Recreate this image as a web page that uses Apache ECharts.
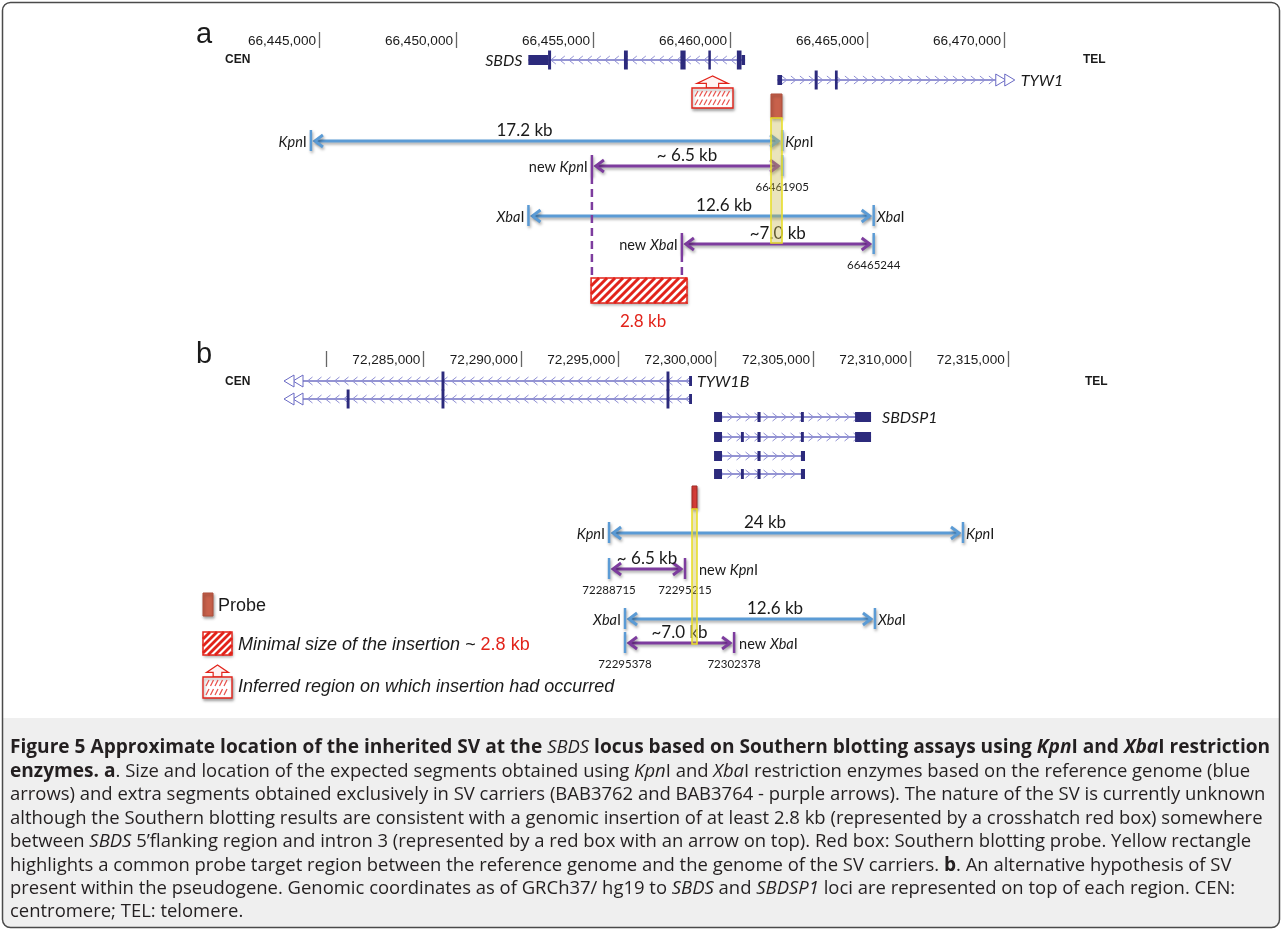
<!DOCTYPE html>
<html>
<head>
<meta charset="utf-8">
<title>Figure 5</title>
<style>
  html, body { margin: 0; padding: 0; background: #fff; }
  #main { width: 1282px; height: 931px; }
</style>
<script src="https://cdn.jsdelivr.net/npm/echarts@6.0.0/dist/echarts.min.js"></script>
</head>
<body>
<div id="main"></div>
<script>
// ---- panel a: SBDS locus, chr7 (hg19) ----
const ticksA = [66445000, 66450000, 66455000, 66460000, 66465000, 66470000];
const tickLabelsA = ['66,445,000', '66,450,000', '66,455,000', '66,460,000', '66,465,000', '66,470,000'];

// exons: [start, end, kind]  kind 0 = UTR/short box, 1 = coding/tall
const sbdsSpan = [66452640, 66460550];
const sbdsExons = [[66452640, 66453360, 0], [66453360, 66453470, 1], [66456130, 66456270, 1],
  [66458190, 66458380, 1], [66459210, 66459300, 1], [66460250, 66460420, 1], [66460420, 66460550, 0]];
const tyw1Span = [66461730, 66469700];
const tyw1Exons = [[66461730, 66461900, 0], [66463090, 66463200, 1], [66463830, 66463930, 1]];

// restriction fragments seen on the Southern blot
const fragFromA = [66444705, 66454960, 66452644, 66458244];
const fragToA = [66461905, 66461905, 66465244, 66465244];
const fragSizeA = ['17.2 kb', '~ 6.5 kb', '12.6 kb', '~7.0 kb'];
const fragLeftSiteA = ['KpnI', 'new KpnI', 'XbaI', 'new XbaI'];
const fragRightSiteA = ['KpnI', '', 'XbaI', ''];
const fragLeftCoordA = ['', '', '', ''];
const fragRightCoordA = ['', '66461905', '', '66465244'];
const probeA = [66461496, 66461898];
const insertA = [66454930, 66458430];
const inferredA = [66458613, 66460109];

// ---- panel b: SBDSP1 pseudogene ----
const ticksB = [72280000, 72285000, 72290000, 72295000, 72300000, 72305000, 72310000, 72315000];
const tickLabelsB = ['', '72,285,000', '72,290,000', '72,295,000', '72,300,000', '72,305,000', '72,310,000', '72,315,000'];

const tyw1bSpan = [72278820, 72298790];
const tyw1bExons1 = [[72285930, 72286080, 1], [72297480, 72297630, 1], [72298640, 72298790, 0]];
const tyw1bExons2 = [[72281060, 72281210, 1], [72285930, 72286080, 1], [72297480, 72297630, 1], [72298640, 72298790, 0]];
const sbdsp1SpanLong = [72299920, 72307980];
const sbdsp1SpanShort = [72299920, 72304590];
const sbdsp1Exons1 = [[72299920, 72300330, 0], [72302150, 72302310, 0], [72304380, 72304530, 0], [72307160, 72307980, 0]];
const sbdsp1Exons2 = [[72299920, 72300330, 0], [72301300, 72301450, 0], [72302150, 72302310, 0], [72304380, 72304530, 0], [72307160, 72307980, 0]];
const sbdsp1Exons3 = [[72299920, 72300330, 0], [72302150, 72302310, 0], [72304380, 72304590, 0]];
const sbdsp1Exons4 = [[72299920, 72300330, 0], [72301300, 72301450, 0], [72302150, 72302310, 0], [72304380, 72304590, 0]];

const fragFromB = [72294530, 72294530, 72295350, 72295350];
const fragToB = [72312700, 72298430, 72308180, 72300950];
const fragSizeB = ['24 kb', '~ 6.5 kb', '12.6 kb', '~7.0 kb'];
const fragLeftSiteB = ['KpnI', '', 'XbaI', ''];
const fragRightSiteB = ['KpnI', 'new KpnI', 'XbaI', 'new XbaI'];
const fragLeftCoordB = ['', '72288715', '', '72295378'];
const fragRightCoordB = ['', '72295215', '', '72302378'];
const probeB = [72298789, 72299045];

// caption, one array per printed line: [style, text]
const caption = [
  [['b', 'Figure 5 Approximate location of the inherited SV at the '], ['i', 'SBDS'], ['b', ' locus based on Southern blotting assays using '], ['bi', 'Kpn'], ['b', 'I and '], ['bi', 'Xba'], ['b', 'I restriction']],
  [['b', 'enzymes. a'], ['r', '. Size and location of the expected segments obtained using '], ['i', 'Kpn'], ['r', 'I and '], ['i', 'Xba'], ['r', 'I restriction enzymes based on the reference genome (blue']],
  [['r', 'arrows) and extra segments obtained exclusively in SV carriers (BAB3762 and BAB3764 - purple arrows). The nature of the SV is currently unknown']],
  [['r', 'although the Southern blotting results are consistent with a genomic insertion of at least 2.8 kb (represented by a crosshatch red box) somewhere']],
  [['r', 'between '], ['i', 'SBDS'], ['r', ' 5’flanking region and intron 3 (represented by a red box with an arrow on top). Red box: Southern blotting probe. Yellow rectangle']],
  [['r', 'highlights a common probe target region between the reference genome and the genome of the SV carriers. '], ['b', 'b'], ['r', '. An alternative hypothesis of SV']],
  [['r', 'present within the pseudogene. Genomic coordinates as of GRCh37/ hg19 to '], ['i', 'SBDS'], ['r', ' and '], ['i', 'SBDSP1'], ['r', ' loci are represented on top of each region. CEN:']],
  [['r', 'centromere; TEL: telomere.']]
];

// ---- layout (page pixels, the y axes run 1:1 with the page) ----
const layA = { sbds: 60, tyw1: 80, frag: [141, 166, 216, 244], probe: [94, 118, 243], insert: [278, 303], inferred: [76, 88, 108] };
const layB = { tyw1b: [381, 399], sbdsp1: [417, 437, 456, 474], frag: [533, 569, 619, 643], probe: [486, 509, 644] };
const sizeShiftA = [-22, 0, 23, 0], sizeShiftB = [-21, 0, 25, 0];
const rightGapA = [3, 3, 3, 3], rightGapB = [3, 14, 3, 5];

const BLUE = '#5b9bd5', PURPLE = '#7d3c9e', RED = '#e2231a', EXON = '#2c2a7c';
const INTRON = '#7070c4', CHEV = '#8f8fd4', TXT = '#1a1a1a', FONT = 'Lato', CAPFONT = 'Open Sans';

function textEl(text, x, y, o) {
  o = o || {};
  const al = o.align || 'left', va = o.va || 'middle';
  return {
    type: 'text',
    style: {
      text: text, x: x, y: y, fill: o.color || TXT,
      fontFamily: o.family || FONT, fontSize: o.size || 14,
      fontWeight: o.weight || 'normal', fontStyle: o.style || 'normal',
      align: al, textAlign: al, verticalAlign: va, textVerticalAlign: va,
      rich: o.rich
    }
  };
}

const shadow = { shadowBlur: 3, shadowColor: 'rgba(0,0,0,0.35)', shadowOffsetX: 1, shadowOffsetY: 2 };

function hatch(x0, y0, x1, y1, gap, lw, color) {
  const h = y1 - y0, out = [];
  for (let k = x0 - h; k < x1; k += gap) {
    const t0 = Math.max(0, x0 - k), t1 = Math.min(h, x1 - k);
    if (t1 <= t0) continue;
    out.push({ type: 'line', shape: { x1: k + t0, y1: y1 - t0, x2: k + t1, y2: y1 - t1 }, style: { stroke: color, lineWidth: lw } });
  }
  out.push({ type: 'rect', shape: { x: x0, y: y0, width: x1 - x0, height: h }, style: { fill: 'none', stroke: color, lineWidth: 1.5 } });
  return out;
}

function inferredIcon(x0, x1, yTop, yBox, yBot) {
  const cx = (x0 + x1) / 2, w = x1 - x0, yb = yTop + (yBox - yTop) * 0.62, sw = w * 0.15;
  const out = [
    { type: 'polygon', shape: { points: [[cx, yTop], [x0 + w * 0.12, yb], [cx - sw, yb], [cx - sw, yBox], [cx + sw, yBox], [cx + sw, yb], [x1 - w * 0.12, yb]] },
      style: { fill: '#fff3f3', stroke: RED, lineWidth: 1.2 } },
    { type: 'rect', shape: { x: x0, y: yBox, width: w, height: yBot - yBox }, style: Object.assign({ fill: '#fff', stroke: RED, lineWidth: 1.4 }, shadow) }
  ];
  const mid = (yBox + yBot) / 2;
  [[yBox + 3, mid - 1.5], [mid + 1.5, yBot - 3]].forEach(function (r) {
    for (let x = x0 + 3; x + 3 < x1 - 1; x += 4.5) {
      out.push({ type: 'line', shape: { x1: x, y1: r[1], x2: x + 3, y2: r[0] }, style: { stroke: '#e8504a', lineWidth: 1.2 } });
    }
  });
  return out;
}

function arrow(x0, x1, y, col, cL, cR) {
  const st = Object.assign({ stroke: col, lineWidth: 3, fill: 'none' }, shadow);
  return [
    { type: 'line', shape: { x1: x0 + 4, y1: y, x2: x1 - 4, y2: y }, style: st },
    { type: 'polyline', shape: { points: [[x0 + 12, y - 6], [x0 + 4, y], [x0 + 12, y + 6]] }, style: st },
    { type: 'polyline', shape: { points: [[x1 - 12, y - 6], [x1 - 4, y], [x1 - 12, y + 6]] }, style: st },
    { type: 'line', shape: { x1: x0, y1: y - 11, x2: x0, y2: y + 10 }, style: Object.assign({ stroke: cL, lineWidth: 2.5 }, shadow) },
    { type: 'line', shape: { x1: x1, y1: y - 11, x2: x1, y2: y + 10 }, style: Object.assign({ stroke: cR, lineWidth: 2.5 }, shadow) }
  ];
}

const siteRich = {
  it: { fontFamily: FONT, fontSize: 14.5, fontStyle: 'italic', fill: TXT }
};
function site(s, x, y, al) {
  return textEl(s.replace(/(Kpn|Xba)/, '{it|$1}'), x, y, { align: al, size: 14.5, rich: siteRich });
}

function geneSeries(g, y, span, exons, strand, cont, label) {
  return {
    type: 'custom', xAxisIndex: g, yAxisIndex: g, silent: true, z: 3,
    data: [[span[0], span[1], -1]].concat(exons),
    encode: { x: [0, 1] },
    renderItem: function (params, api) {
      const kind = api.value(2);
      const a = api.coord([api.value(0), y]), b = api.coord([api.value(1), y]);
      const yy = a[1];
      if (kind >= 0) {
        const h = kind === 1 ? 19 : 10;
        return { type: 'rect', shape: { x: a[0], y: yy - h / 2, width: Math.max(b[0] - a[0], 2.5), height: h }, style: { fill: EXON } };
      }
      const kids = [{ type: 'line', shape: { x1: a[0], y1: yy, x2: b[0], y2: yy }, style: { stroke: INTRON, lineWidth: 1.3 } }];
      const d = strand === '+' ? 1 : -1;
      for (let x = a[0] + 7; x < b[0] - 4; x += 9) {
        kids.push({ type: 'polyline', shape: { points: [[x - 2.5 * d, yy - 4], [x + 2.5 * d, yy], [x - 2.5 * d, yy + 4]] }, style: { stroke: CHEV, lineWidth: 1, fill: 'none' } });
      }
      if (cont) {
        const s = cont === 'right' ? 1 : -1, x = cont === 'right' ? b[0] : a[0];
        [0, 9].forEach(function (k) {
          const bx = x + s * k;
          kids.push({ type: 'polygon', shape: { points: [[bx, yy - 6], [bx + s * 10, yy], [bx, yy + 6]] }, style: { fill: '#fff', stroke: '#6a6ac4', lineWidth: 1 } });
        });
      }
      if (label) {
        const extra = cont === 'right' ? 20 : 0;
        const lx = label.side === 'left' ? a[0] - label.gap : b[0] + extra + label.gap;
        kids.push(textEl(label.text, lx, yy + 1, { align: label.side === 'left' ? 'right' : 'left', size: 16, style: 'italic' }));
      }
      return { type: 'group', children: kids };
    }
  };
}

function fragmentSeries(g, from, to, sizes, lSite, rSite, lCoord, rCoord, lanes, shift, rGap) {
  return {
    type: 'custom', xAxisIndex: g, yAxisIndex: g, silent: true, z: 2,
    data: from.map(function (f, i) { return [f, to[i], i]; }),
    encode: { x: [0, 1] },
    renderItem: function (params, api) {
      const i = api.value(2), y = lanes[i];
      const x0 = api.coord([api.value(0), y])[0], x1 = api.coord([api.value(1), y])[0];
      const newL = lSite[i].indexOf('new') === 0, newR = rSite[i].indexOf('new') === 0;
      const kids = arrow(x0, x1, y, newL || newR ? PURPLE : BLUE, newL ? PURPLE : BLUE, newR ? PURPLE : BLUE);
      kids.push(textEl(sizes[i], (x0 + x1) / 2 + shift[i], y - 10, { align: 'center', size: 17 }));
      if (lSite[i]) kids.push(site(lSite[i], x0 - 4, y + 1, 'right'));
      if (rSite[i]) kids.push(site(rSite[i], x1 + rGap[i], y + 1, 'left'));
      if (lCoord[i]) kids.push(textEl(lCoord[i], x0, y + 21, { align: 'center', size: 11.5 }));
      if (rCoord[i]) kids.push(textEl(rCoord[i], x1, y + 21, { align: 'center', size: 11.5 }));
      return { type: 'group', children: kids };
    }
  };
}

function probeSeries(g, probe, ys, fill, stroke) {
  return {
    type: 'custom', xAxisIndex: g, yAxisIndex: g, silent: true, z: 5,
    data: [probe],
    encode: { x: [0, 1] },
    renderItem: function (params, api) {
      const a = api.coord([api.value(0), ys[0]]), b = api.coord([api.value(1), ys[0]]);
      const w = b[0] - a[0];
      return { type: 'group', children: [
        { type: 'rect', shape: { x: a[0], y: ys[0], width: w, height: ys[1] - ys[0] }, style: Object.assign({ fill: fill, stroke: stroke, lineWidth: 1 }, shadow) },
        { type: 'rect', shape: { x: a[0], y: ys[1], width: w, height: ys[2] - ys[1] }, style: { fill: 'rgba(200,185,80,0.38)', stroke: '#e8de2c', lineWidth: 1.6 } }
      ] };
    }
  };
}

const insertSeries = {
  type: 'custom', xAxisIndex: 0, yAxisIndex: 0, silent: true, z: 2,
  data: [insertA],
  encode: { x: [0, 1] },
  renderItem: function (params, api) {
    const y0 = layA.insert[0], y1 = layA.insert[1];
    const x0 = api.coord([api.value(0), y0])[0], x1 = api.coord([api.value(1), y0])[0];
    let kids = [{ type: 'rect', shape: { x: x0, y: y0, width: x1 - x0, height: y1 - y0 }, style: Object.assign({ fill: '#fff' }, shadow) }];
    kids = kids.concat(hatch(x0, y0, x1, y1, 8, 3, RED));
    fragFromA.forEach(function (f, i) {
      if (fragLeftSiteA[i].indexOf('new') !== 0) return;
      const x = api.coord([f, y0])[0];
      kids.push({ type: 'line', shape: { x1: x, y1: layA.frag[i] + 10, x2: x, y2: y0 }, style: { stroke: PURPLE, lineWidth: 2.5, lineDash: [8, 5] } });
    });
    kids.push(textEl('2.8 kb', (x0 + x1) / 2 + 4, y1 + 19, { align: 'center', size: 17, color: RED }));
    return { type: 'group', children: kids };
  }
};

const inferredSeries = {
  type: 'custom', xAxisIndex: 0, yAxisIndex: 0, silent: true, z: 3,
  data: [inferredA],
  encode: { x: [0, 1] },
  renderItem: function (params, api) {
    const r = layA.inferred;
    const x0 = api.coord([api.value(0), r[1]])[0], x1 = api.coord([api.value(1), r[1]])[0];
    return { type: 'group', children: inferredIcon(x0, x1, r[0], r[1], r[2]) };
  }
};

function xAxis(g, min, max, ticks, labels) {
  return {
    type: 'value', gridIndex: g, position: 'top', min: min, max: max, interval: 5000,
    axisLine: { show: false, onZero: false }, splitLine: { show: false },
    axisTick: { show: true, inside: true, length: 16, customValues: ticks, lineStyle: { color: '#666', width: 1.3 } },
    axisLabel: {
      inside: true, customValues: ticks, align: 'right', verticalAlign: 'middle', margin: 9, padding: [0, 3, 0, 0],
      fontFamily: 'Liberation Sans', fontSize: 13.6, color: TXT,
      formatter: function (v) { const i = ticks.indexOf(v); return i < 0 ? '' : labels[i]; }
    }
  };
}

// caption font sizes fitted so the full-width lines span the column
const ctx = document.createElement('canvas').getContext('2d');
function textWidth(style, size, s) {
  const it = style.indexOf('i') >= 0 ? 'italic ' : '', bd = style.indexOf('b') === 0 ? 'bold ' : '';
  ctx.font = it + bd + size + 'px "' + CAPFONT + '"';
  return ctx.measureText(s).width;
}
const capSize = 20 * 1256 / textWidth('r', 20, caption[2][0][1]);
let boldW = 0, otherW = 0;
caption[0].forEach(function (s) {
  if (s[0] === 'b' || s[0] === 'bi') boldW += textWidth(s[0], capSize, s[1]);
  else otherW += textWidth(s[0], capSize, s[1]);
});
const boldSize = capSize * (1260 - otherW) / boldW;
const capRich = {
  r: { fontFamily: CAPFONT, fontSize: capSize, fill: '#231f20' },
  b: { fontFamily: CAPFONT, fontSize: boldSize, fontWeight: 'bold', fill: '#231f20' },
  i: { fontFamily: CAPFONT, fontSize: capSize, fontStyle: 'italic', fill: '#231f20' },
  bi: { fontFamily: CAPFONT, fontSize: boldSize, fontStyle: 'italic', fontWeight: 'bold', fill: '#231f20' }
};

const graphics = [
  { type: 'rect', shape: { x: 3, y: 718, width: 1276, height: 209, r: [0, 0, 7, 7] }, style: { fill: '#efefef' } },
  { type: 'rect', shape: { x: 2.5, y: 2.5, width: 1277, height: 925, r: 8 }, style: { fill: 'none', stroke: '#4a4a4a', lineWidth: 1.5 } },
  textEl('a', 196, 35, { family: 'Liberation Sans', size: 29 }),
  textEl('b', 196, 355, { family: 'Liberation Sans', size: 29 }),
  textEl('CEN', 225, 60, { family: 'Liberation Sans', size: 12, weight: 'bold' }),
  textEl('TEL', 1083, 60, { family: 'Liberation Sans', size: 12, weight: 'bold' }),
  textEl('CEN', 225, 382, { family: 'Liberation Sans', size: 12, weight: 'bold' }),
  textEl('TEL', 1085, 382, { family: 'Liberation Sans', size: 12, weight: 'bold' }),
  // legend
  { type: 'rect', shape: { x: 203, y: 593, width: 10, height: 23 }, style: Object.assign({ fill: '#c8614b', stroke: '#b04e3b', lineWidth: 1 }, shadow) },
  textEl('Probe', 218, 606, { family: 'Liberation Sans', size: 18 }),
  { type: 'rect', shape: { x: 203, y: 632, width: 29, height: 23 }, style: Object.assign({ fill: '#fff' }, shadow) },
  { type: 'group', children: hatch(203, 632, 232, 655, 7, 2.8, RED) },
  textEl('{it|Minimal size of the insertion ~ }{red|2.8 kb}', 238, 645, { family: 'Liberation Sans', size: 18, rich: {
    it: { fontFamily: 'Liberation Sans', fontSize: 18, fontStyle: 'italic', fill: TXT },
    red: { fontFamily: 'Liberation Sans', fontSize: 18, fill: RED }
  } }),
  { type: 'group', children: inferredIcon(203, 232, 665, 677, 698) },
  textEl('Inferred region on which insertion had occurred', 238, 687, { family: 'Liberation Sans', size: 18, style: 'italic' })
];
caption.forEach(function (segs, k) {
  const str = segs.map(function (s) { return '{' + s[0] + '|' + s[1] + '}'; }).join('');
  graphics.push(textEl(str, 10, 748 + k * 23.45, { size: capSize, family: CAPFONT, rich: capRich }));
});

const chart = echarts.init(document.getElementById('main'));
chart.setOption({
  animation: false,
  backgroundColor: '#fff',
  grid: [
    { left: 45, width: 1233, top: 32, height: 300 },
    { left: 33.8, width: 1168.8, top: 351, height: 360 }
  ],
  xAxis: [
    xAxis(0, 66435000, 66480000, ticksA, tickLabelsA),
    xAxis(1, 72265000, 72325000, ticksB, tickLabelsB)
  ],
  yAxis: [
    { type: 'value', gridIndex: 0, min: 32, max: 332, inverse: true, show: false },
    { type: 'value', gridIndex: 1, min: 351, max: 711, inverse: true, show: false }
  ],
  series: [
    geneSeries(0, layA.sbds, sbdsSpan, sbdsExons, '-', null, { text: 'SBDS', side: 'left', gap: 6 }),
    geneSeries(0, layA.tyw1, tyw1Span, tyw1Exons, '+', 'right', { text: 'TYW1', side: 'right', gap: 5 }),
    inferredSeries,
    fragmentSeries(0, fragFromA, fragToA, fragSizeA, fragLeftSiteA, fragRightSiteA, fragLeftCoordA, fragRightCoordA, layA.frag, sizeShiftA, rightGapA),
    insertSeries,
    probeSeries(0, probeA, layA.probe, '#c8614b', '#b04e3b'),
    geneSeries(1, layB.tyw1b[0], tyw1bSpan, tyw1bExons1, '-', 'left', { text: 'TYW1B', side: 'right', gap: 5 }),
    geneSeries(1, layB.tyw1b[1], tyw1bSpan, tyw1bExons2, '-', 'left', null),
    geneSeries(1, layB.sbdsp1[0], sbdsp1SpanLong, sbdsp1Exons1, '+', null, { text: 'SBDSP1', side: 'right', gap: 11 }),
    geneSeries(1, layB.sbdsp1[1], sbdsp1SpanLong, sbdsp1Exons2, '+', null, null),
    geneSeries(1, layB.sbdsp1[2], sbdsp1SpanShort, sbdsp1Exons3, '+', null, null),
    geneSeries(1, layB.sbdsp1[3], sbdsp1SpanShort, sbdsp1Exons4, '+', null, null),
    fragmentSeries(1, fragFromB, fragToB, fragSizeB, fragLeftSiteB, fragRightSiteB, fragLeftCoordB, fragRightCoordB, layB.frag, sizeShiftB, rightGapB),
    probeSeries(1, probeB, layB.probe, '#e0403a', '#9e2a25')
  ],
  graphic: { elements: graphics }
});
</script>
</body>
</html>
